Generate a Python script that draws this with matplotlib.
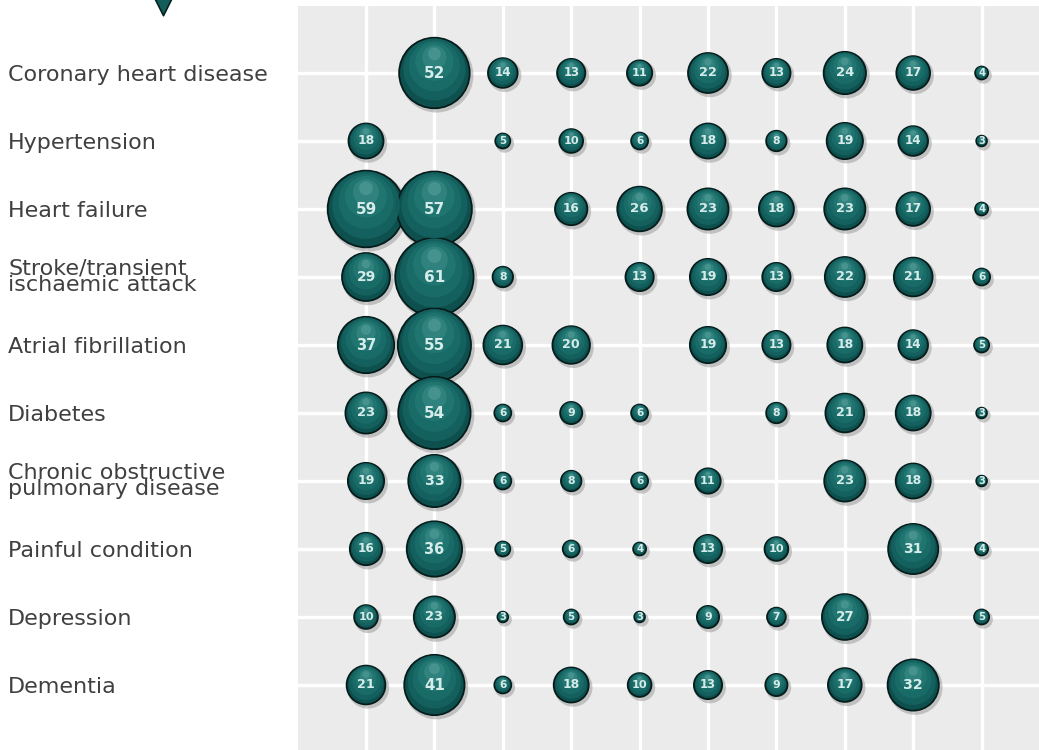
import numpy as np
import matplotlib
matplotlib.use('Agg')
import matplotlib.pyplot as plt

# conditions (rows) and co-morbidity counts per column; None = same condition
conditions = ['Coronary heart disease', 'Hypertension', 'Heart failure',
              'Stroke/transient\nischaemic attack', 'Atrial fibrillation',
              'Diabetes', 'Chronic obstructive\npulmonary disease',
              'Painful condition', 'Depression', 'Dementia']

coronary     = [None, 52, 14, 13, 11, 22, 13, 24, 17, 4]
hypertension = [18, None, 5, 10, 6, 18, 8, 19, 14, 3]
heart_fail   = [59, 57, None, 16, 26, 23, 18, 23, 17, 4]
stroke       = [29, 61, 8, None, 13, 19, 13, 22, 21, 6]
atrial_fib   = [37, 55, 21, 20, None, 19, 13, 18, 14, 5]
diabetes     = [23, 54, 6, 9, 6, None, 8, 21, 18, 3]
copd         = [19, 33, 6, 8, 6, 11, None, 23, 18, 3]
painful      = [16, 36, 5, 6, 4, 13, 10, None, 31, 4]
depression   = [10, 23, 3, 5, 3, 9, 7, 27, None, 5]
dementia     = [21, 41, 6, 18, 10, 13, 9, 17, 32, None]

rows = [coronary, hypertension, heart_fail, stroke, atrial_fib,
        diabetes, copd, painful, depression, dementia]

W, H = 1039, 750
fig = plt.figure(figsize=(W / 100, H / 100), dpi=100)
ax = fig.add_axes([298 / W, 0, 1 - 298 / W, (H - 6) / H])
ax.set_facecolor('#ebebeb')

# bubbles: diameter in pixels grows with value
def diam(v):
    return 5.2 * v ** 0.66

xs, ys, vals = [], [], []
for r, row in enumerate(rows):
    for c, v in enumerate(row):
        if v is None:
            continue
        xs.append(c)
        ys.append(r)
        vals.append(v)
xs = np.array(xs, dtype=float)
ys = np.array(ys, dtype=float)
vals = np.array(vals, dtype=float)
d = diam(vals)
pt = d * 0.72   # px -> points
unit = 68.0     # px per data unit

# shadow
ax.scatter(xs + 2 / unit, ys + 2.5 / unit, s=(pt + 2.5) ** 2, color='#8c8c8c',
           alpha=0.45, linewidths=0, zorder=2)
# body
ax.scatter(xs, ys, s=pt ** 2, color='#0d504e', edgecolors='#051c1b',
           linewidths=1.3, zorder=3)
# shading toward the top
shade = [(0.88, 0.05, '#146260', 0.9), (0.72, 0.10, '#1b6d6a', 0.85),
         (0.54, 0.16, '#257975', 0.75), (0.34, 0.22, '#3b8b87', 0.6),
         (0.18, 0.27, '#5aa29e', 0.5)]
for frac, off, col, a in shade:
    ax.scatter(xs, ys - off * d / unit, s=(pt * frac) ** 2, color=col,
               alpha=a, linewidths=0, zorder=4)

for x, y, v, dd in zip(xs, ys, vals, d):
    fs = min(11, 6.3 + 0.075 * dd)
    ax.text(x, y, f'{int(v)}', ha='center', va='center', fontsize=fs,
            color='#d6ecea', fontweight='bold', zorder=6,
            family=['Liberation Sans Narrow', 'DejaVu Sans'])

# grid
ax.set_xlim((298 - 366) / 68.4, (W - 366) / 68.4)
ax.set_ylim((H - 73) / 68.0, (6 - 73) / 68.0)
ax.set_xticks(range(10))
ax.set_yticks(range(10))
ax.set_xticklabels([])
ax.set_yticklabels(conditions, ha='left', fontsize=16, color='#404040',
                   linespacing=0.78)
ax.tick_params(axis='both', length=0)
ax.tick_params(axis='y', pad=(298 - 8) * 0.72)
ax.grid(True, color='white', linewidth=2.4, zorder=0)
ax.set_axisbelow(True)
for s in ax.spines.values():
    s.set_visible(False)

# little pointer at the top
ax.scatter([(163 - 366) / 68.4], [(0 - 73) / 68.0], marker='v', s=480,
           color='#135e5b', edgecolors='#06201f', linewidths=1.2,
           clip_on=False, zorder=5)

fig.savefig('out.png', dpi=100)
